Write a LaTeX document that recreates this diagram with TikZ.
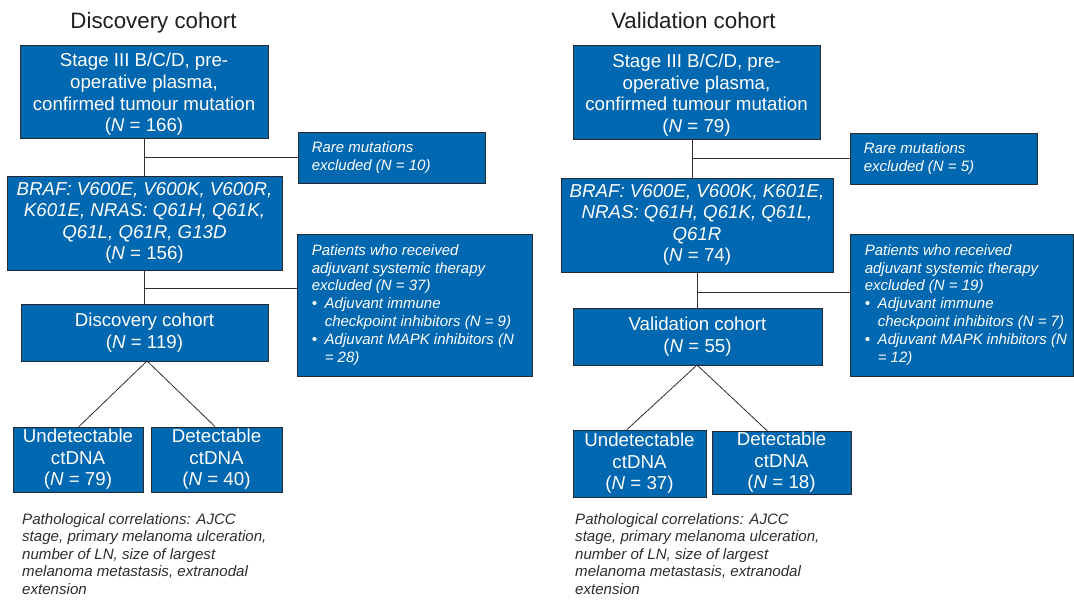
\documentclass[tikz,border=0pt]{standalone}
\usepackage{fontspec}
\setmainfont{Liberation Sans}
\definecolor{boxblue}{RGB}{0,103,177}
\definecolor{edgec}{RGB}{40,40,45}
\definecolor{linec}{RGB}{45,45,45}
\definecolor{footc}{RGB}{45,45,45}
\definecolor{titlec}{RGB}{30,30,30}
\newcommand{\mybigfont}{\fontsize{18.7}{21.6}\selectfont}
\newcommand{\mysmallfont}{\fontsize{15}{17.9}\selectfont\itshape}
\newcommand{\myfootfont}{\fontsize{15.1}{17.6}\selectfont\itshape}
\newcommand{\mytitlefont}{\fontsize{22.3}{26}\selectfont}
\newcommand{\mybul}{\makebox[13pt][l]{\textbullet}}
\newcommand{\myind}{\hspace*{13pt}}
\newcommand{\mytop}{\rule{0pt}{19.5pt}}
\newcommand{\NN}{\textit{N}}
\tikzset{
  box/.style={draw=edgec, line width=0.9pt, fill=boxblue, text=white, inner sep=0pt, align=center, font=\mybigfont},
  xbox/.style={draw=edgec, line width=0.9pt, fill=boxblue, inner sep=0pt},
  xtext/.style={text=white, inner sep=0pt, align=left, anchor=west, font=\mysmallfont},
  link/.style={draw=linec, line width=0.8pt},
  ttl/.style={font=\mytitlefont, text=titlec, anchor=base, inner sep=0pt},
  foot/.style={font=\myfootfont, text=footc, align=left, anchor=north west, inner sep=0pt}
}
\begin{document}
\begin{tikzpicture}[x=1pt,y=-1pt]
\useasboundingbox (0,0) rectangle (1074,600);
% ---------------- Discovery ----------------
\node[ttl] (Dtitle) at (153.5,28) {Discovery cohort};
\node[box, minimum width=248pt, minimum height=93pt] (D1) at (144,91.5)
  {\mytop Stage III B/C/D, pre-\\operative plasma,\\confirmed tumour mutation\\(\NN{} = 166)};
\node[xbox, minimum width=187pt, minimum height=51pt] (Drare) at (391.5,157.5) {};
\node[xtext] (Drt) at ([xshift=14pt]Drare.west) {Rare mutations\\excluded (N = 10)};
\node[box, minimum width=275pt, minimum height=94pt] (D2) at (144.5,223)
  {\itshape BRAF: V600E, V600K, V600R,\\\itshape K601E, NRAS: Q61H, Q61K,\\\itshape Q61L, Q61R, G13D\\(\NN{} = 156)};
\node[xbox, minimum width=235pt, minimum height=142pt] (Dadj) at (414.5,305) {};
\node[xtext] (Dat) at ([xshift=15pt]Dadj.west)
  {Patients who received\\adjuvant systemic therapy\\excluded (N = 37)\\
   \mybul Adjuvant immune\\\myind checkpoint inhibitors (N = 9)\\
   \mybul Adjuvant MAPK inhibitors (N\\\myind = 28)};
\node[box, minimum width=247pt, minimum height=57pt] (D3) at (144.5,332.5)
  {Discovery cohort\\(\NN{} = 119)};
\node[box, minimum width=130pt, minimum height=65pt] (DU) at (78,459.5)
  {Undetectable\\ctDNA\\(\NN{} = 79)};
\node[box, minimum width=131pt, minimum height=65pt] (DD) at (216.5,459.5)
  {Detectable\\ctDNA\\(\NN{} = 40)};
\node[foot] (Dfoot) at (22,513)
  {Pathological correlations: AJCC\\stage, primary melanoma ulceration,\\number of LN, size of largest\\melanoma metastasis, extranodal\\extension};
% connectors
\coordinate (Dj1) at (D1.south |- Drare.west);
\draw[link] (D1.south) -- (D1.south |- D2.north);
\draw[link] (Dj1) -- (Drare.west);
\coordinate (Dj2) at (144,288);
\draw[link] ([xshift=-0.5pt]D2.south) -- ([xshift=-0.5pt]D3.north);
\draw[link] (Dj2) -- (Dj2 -| Dadj.west);
\coordinate (Dap) at (147,361);
\draw[link] (Dap) -- ([xshift=1pt]DU.north);
\draw[link] (Dap) -- ([xshift=-1.5pt]DD.north);
% ---------------- Validation ----------------
\node[ttl] (Vtitle) at (693.5,28) {Validation cohort};
\node[box, minimum width=247pt, minimum height=94pt] (V1) at (696.5,92)
  {\mytop Stage III B/C/D, pre-\\operative plasma,\\confirmed tumour mutation\\(\NN{} = 79)};
\node[xbox, minimum width=187pt, minimum height=51pt] (Vrare) at (943.5,158.5) {};
\node[xtext] (Vrt) at ([xshift=14pt]Vrare.west) {Rare mutations\\excluded (N = 5)};
\node[box, minimum width=272pt, minimum height=94pt] (V2) at (697,225)
  {\itshape BRAF: V600E, V600K, K601E,\\\itshape NRAS: Q61H, Q61K, Q61L,\\\itshape Q61R\\(\NN{} = 74)};
\node[xbox, minimum width=223pt, minimum height=142pt] (Vadj) at (961.5,305) {};
\node[xtext] (Vat) at ([xshift=15pt]Vadj.west)
  {Patients who received\\adjuvant systemic therapy\\excluded (N = 19)\\
   \mybul Adjuvant immune\\\myind checkpoint inhibitors (N = 7)\\
   \mybul Adjuvant MAPK inhibitors (N\\\myind = 12)};
\node[box, minimum width=249pt, minimum height=57pt] (V3) at (697.5,336.5)
  {Validation cohort\\(\NN{} = 55)};
\node[box, minimum width=133pt, minimum height=67pt] (VU) at (639.5,463.5)
  {Undetectable\\ctDNA\\(\NN{} = 37)};
\node[box, minimum width=139pt, minimum height=63pt] (VD) at (781.5,462.5)
  {Detectable\\ctDNA\\(\NN{} = 18)};
\node[foot] (Vfoot) at (575,513)
  {Pathological correlations: AJCC\\stage, primary melanoma ulceration,\\number of LN, size of largest\\melanoma metastasis, extranodal\\extension};
% connectors
\coordinate (Vx1) at (692,0);
\draw[link] (Vx1 |- V1.south) -- (Vx1 |- V2.north);
\draw[link] (Vx1 |- Vrare.west) -- (Vrare.west);
\coordinate (Vj2) at (697,292);
\draw[link] (V2.south) -- (V2.south |- V3.north);
\draw[link] (Vj2) -- (Vj2 -| Vadj.west);
\coordinate (Vap) at (697,365);
\draw[link] (Vap) -- ([xshift=-12.5pt]VU.north);
\draw[link] (Vap) -- ([xshift=-13.5pt,yshift=-1pt]VD.north);
\end{tikzpicture}
\end{document}
